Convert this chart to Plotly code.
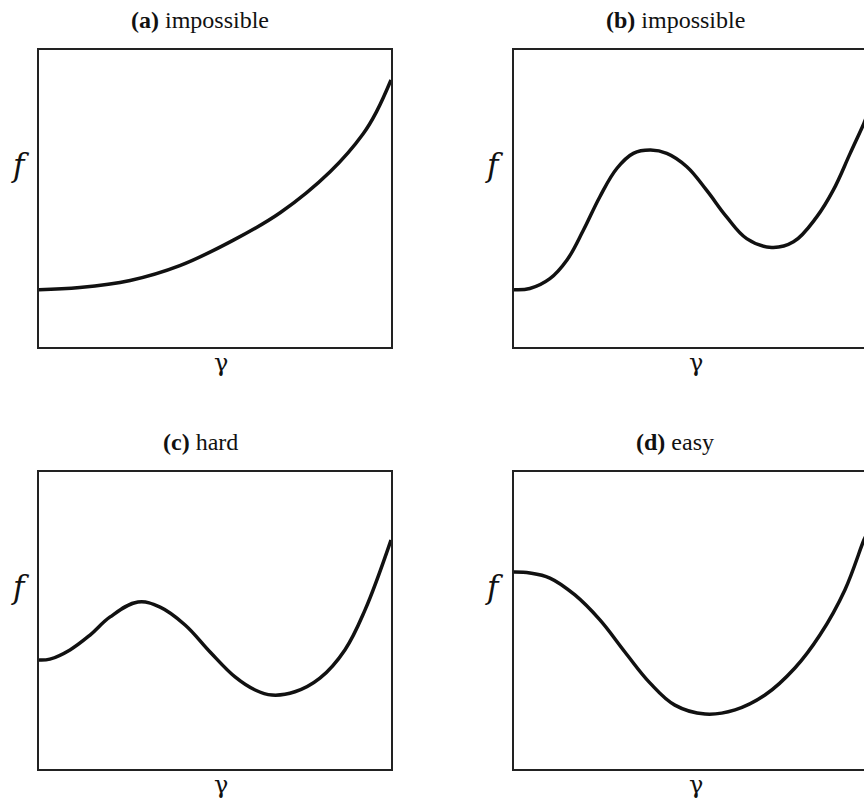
import plotly.graph_objects as go

# ---- data (normalised gamma / f) ----
gamma_a = [0, 0.116, 0.259, 0.40, 0.543, 0.685, 0.827, 0.921, 0.96, 1.0]
f_a = [0.193, 0.200, 0.224, 0.274, 0.354, 0.452, 0.590, 0.718, 0.795, 0.899]

gamma_b = [0, 0.045, 0.102, 0.150, 0.197, 0.244, 0.292, 0.339, 0.388, 0.434,
           0.491, 0.547, 0.604, 0.661, 0.732, 0.794, 0.860, 0.907, 0.955, 0.994, 1.0]
f_b = [0.193, 0.197, 0.230, 0.292, 0.393, 0.506, 0.601, 0.652, 0.663, 0.652,
       0.607, 0.528, 0.438, 0.365, 0.335, 0.354, 0.438, 0.528, 0.652, 0.753, 0.77]

gamma_c = [0, 0.031, 0.088, 0.145, 0.202, 0.281, 0.344, 0.415, 0.486, 0.557,
           0.614, 0.662, 0.727, 0.798, 0.869, 0.926, 1.0]
f_c = [0.367, 0.370, 0.401, 0.451, 0.512, 0.562, 0.545, 0.485, 0.394, 0.310,
       0.266, 0.249, 0.260, 0.306, 0.401, 0.535, 0.771]

gamma_d = [0, 0.045, 0.102, 0.173, 0.244, 0.315, 0.386, 0.457, 0.543, 0.628,
           0.713, 0.798, 0.869, 0.940, 0.994, 1.0]
f_d = [0.663, 0.660, 0.643, 0.586, 0.502, 0.394, 0.290, 0.215, 0.185, 0.199,
       0.249, 0.340, 0.451, 0.603, 0.771, 0.785]

panel_tags = ["(a)", "(b)", "(c)", "(d)"]
panel_labels = ["impossible", "impossible", "hard", "easy"]

W, H = 864, 799
SERIF = "Liberation Serif, Times New Roman, serif"
MATH = "DejaVu Serif, serif"
LINE = "#111111"
BORDER = "#222222"


def px(x):
    return x / W


def py(y):
    return 1 - y / H


panels = [
    dict(g=gamma_a, f=f_a, x0=39, x1=391, y0=50, y1=347, cut=False),
    dict(g=gamma_b, f=f_b, x0=514, x1=864, y0=50, y1=347, cut=True),
    dict(g=gamma_c, f=f_c, x0=39, x1=391, y0=472, y1=769, cut=False),
    dict(g=gamma_d, f=f_d, x0=514, x1=864, y0=472, y1=769, cut=True),
]

fig = go.Figure()
layout = dict(
    width=W, height=H,
    margin=dict(l=0, r=0, t=0, b=0),
    paper_bgcolor="white", plot_bgcolor="white",
    showlegend=False,
)
annotations = []
for i, p in enumerate(panels):
    n = "" if i == 0 else str(i + 1)
    xa, ya = "x" + n, "y" + n
    fig.add_trace(go.Scatter(
        x=p["g"], y=p["f"], mode="lines",
        line=dict(color=LINE, width=3.5, shape="spline", smoothing=1.1),
        xaxis=xa, yaxis=ya, hoverinfo="skip",
    ))
    xr = [0, (p["x1"] - p["x0"]) / 352.0]
    layout["xaxis" + n] = dict(
        domain=[px(p["x0"]), min(1.0, px(p["x1"]))], range=xr, anchor=ya,
        showgrid=False, zeroline=False, showticklabels=False, ticks="",
        showline=True, linecolor=BORDER, linewidth=2, mirror=True,
        fixedrange=True,
    )
    layout["yaxis" + n] = dict(
        domain=[py(p["y1"]), py(p["y0"])], range=[0, 1], anchor=xa,
        showgrid=False, zeroline=False, showticklabels=False, ticks="",
        showline=True, linecolor=BORDER, linewidth=2,
        mirror=(not p["cut"]), fixedrange=True,
    )
    # panel title
    annotations.append(dict(
        x=px(p["x0"] + 161), y=py(p["y0"] - 30), xref="paper", yref="paper",
        text="<b>" + panel_tags[i] + "</b> " + panel_labels[i],
        showarrow=False, xanchor="center", yanchor="middle",
        font=dict(family=SERIF, size=24, color="#111"),
    ))
    # gamma label
    annotations.append(dict(
        x=px(p["x0"] + 182), y=py(p["y1"] + 16), xref="paper", yref="paper",
        text="γ", showarrow=False, xanchor="center", yanchor="middle",
        font=dict(family=MATH, size=24, color="#111"),
    ))
    # f label
    annotations.append(dict(
        x=px(p["x0"] - 19), y=py(p["y0"] + 115), xref="paper", yref="paper",
        text="<i>f</i>", showarrow=False, xanchor="center", yanchor="middle",
        font=dict(family=MATH, size=31, color="#111"),
    ))

layout["annotations"] = annotations
fig.update_layout(**layout)
fig.write_html(
    "out.html",
    config={"displayModeBar": False, "staticPlot": True},
    post_script=(
        "document.body.style.margin='0';"
        "document.body.style.overflow='hidden';"
        "document.documentElement.style.overflow='hidden';"
    ),
)
